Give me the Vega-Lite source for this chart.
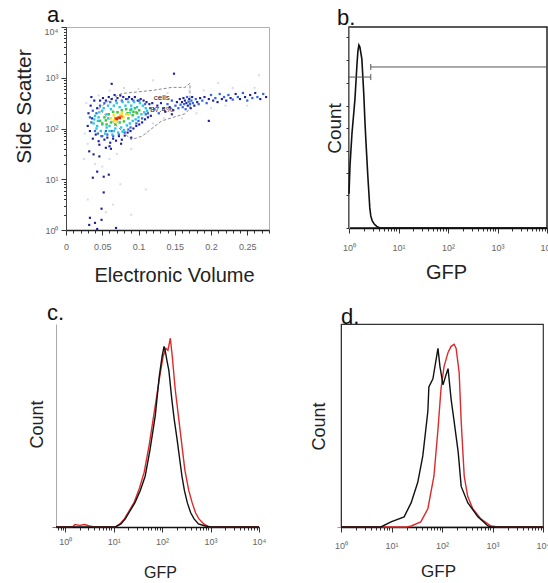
{
"$schema": "https://vega.github.io/schema/vega-lite/v6.json",
"background": "white",
"padding": {"left": 12, "top": 3, "right": 0, "bottom": 0},
"config": {
 "font": "Liberation Sans",
 "axis": {"labelFont": "Liberation Sans", "titleFont": "Liberation Sans", "labelFontSize": 9, "labelColor": "#666", "tickColor": "#333", "domainColor": "#333", "grid": false, "titleFontWeight": "normal", "titleColor": "#222", "labelOverlap": false, "labelFlush": false},
 "title": {"font": "Liberation Sans", "fontSize": 22, "fontWeight": "normal", "anchor": "start", "frame": "group", "baseline": "alphabetic", "color": "#111"}
},
"resolve": {"scale": {"color": "independent", "size": "independent"}},
"datasets": {
 "scatter": [
  {"ev":0.030,"lss":1.70,"d":0},{"ev":0.025,"lss":1.40,"d":0},{"ev":0.040,"lss":1.30,"d":0},{"ev":0.060,"lss":1.40,"d":0},{"ev":0.070,"lss":1.50,"d":0},{"ev":0.090,"lss":1.60,"d":0},{"ev":0.110,"lss":1.90,"d":0},{"ev":0.120,"lss":2.10,"d":0},{"ev":0.130,"lss":2.60,"d":0},{"ev":0.140,"lss":2.70,"d":0},{"ev":0.100,"lss":2.78,"d":0},{"ev":0.080,"lss":2.80,"d":0},{"ev":0.060,"lss":2.75,"d":0},{"ev":0.045,"lss":2.65,"d":0},{"ev":0.028,"lss":2.50,"d":0},{"ev":0.026,"lss":1.90,"d":0},{"ev":0.050,"lss":1.25,"d":0},{"ev":0.065,"lss":0.50,"d":0},{"ev":0.090,"lss":0.30,"d":0},{"ev":0.110,"lss":0.80,"d":0},{"ev":0.160,"lss":2.20,"d":0},{"ev":0.180,"lss":2.30,"d":0},{"ev":0.200,"lss":2.40,"d":0},{"ev":0.220,"lss":2.45,"d":0},{"ev":0.250,"lss":2.45,"d":0},{"ev":0.260,"lss":2.80,"d":0},{"ev":0.230,"lss":2.80,"d":0},{"ev":0.170,"lss":2.75,"d":0},{"ev":0.190,"lss":2.75,"d":0},{"ev":0.135,"lss":2.20,"d":0},{"ev":0.030,"lss":0.60,"d":0},{"ev":0.055,"lss":0.35,"d":0},{"ev":0.075,"lss":0.90,"d":0},{"ev":0.266,"lss":3.05,"d":0},{"ev":0.210,"lss":2.90,"d":0},{"ev":0.120,"lss":2.95,"d":0},
  {"ev":0.030,"lss":2.05,"d":1},{"ev":0.031,"lss":2.30,"d":1},{"ev":0.033,"lss":1.95,"d":1},{"ev":0.034,"lss":2.45,"d":1},{"ev":0.036,"lss":2.20,"d":1},{"ev":0.037,"lss":1.80,"d":1},{"ev":0.039,"lss":2.55,"d":1},{"ev":0.041,"lss":1.88,"d":1},{"ev":0.043,"lss":2.40,"d":1},{"ev":0.045,"lss":1.75,"d":1},{"ev":0.047,"lss":2.55,"d":1},{"ev":0.049,"lss":1.85,"d":1},{"ev":0.051,"lss":2.60,"d":1},{"ev":0.053,"lss":1.78,"d":1},{"ev":0.055,"lss":2.55,"d":1},{"ev":0.057,"lss":1.82,"d":1},{"ev":0.059,"lss":2.62,"d":1},{"ev":0.061,"lss":1.72,"d":1},{"ev":0.063,"lss":2.58,"d":1},{"ev":0.065,"lss":1.80,"d":1},{"ev":0.067,"lss":2.66,"d":1},{"ev":0.069,"lss":1.76,"d":1},{"ev":0.071,"lss":2.60,"d":1},{"ev":0.073,"lss":1.85,"d":1},{"ev":0.075,"lss":2.65,"d":1},{"ev":0.077,"lss":1.78,"d":1},{"ev":0.079,"lss":2.62,"d":1},{"ev":0.081,"lss":1.86,"d":1},{"ev":0.083,"lss":2.58,"d":1},{"ev":0.085,"lss":1.92,"d":1},{"ev":0.087,"lss":2.62,"d":1},{"ev":0.089,"lss":1.95,"d":1},{"ev":0.091,"lss":2.58,"d":1},{"ev":0.093,"lss":2.00,"d":1},{"ev":0.095,"lss":2.62,"d":1},{"ev":0.097,"lss":2.05,"d":1},{"ev":0.099,"lss":2.55,"d":1},{"ev":0.101,"lss":2.08,"d":1},{"ev":0.103,"lss":2.58,"d":1},{"ev":0.105,"lss":2.12,"d":1},{"ev":0.107,"lss":2.55,"d":1},{"ev":0.109,"lss":2.18,"d":1},{"ev":0.111,"lss":2.52,"d":1},{"ev":0.113,"lss":2.22,"d":1},{"ev":0.115,"lss":2.48,"d":1},{"ev":0.117,"lss":2.25,"d":1},{"ev":0.119,"lss":2.50,"d":1},{"ev":0.035,"lss":2.62,"d":1},{"ev":0.046,"lss":1.68,"d":1},{"ev":0.060,"lss":1.65,"d":1},{"ev":0.076,"lss":1.70,"d":1},{"ev":0.090,"lss":1.82,"d":1},
  {"ev":0.032,"lss":1.55,"d":1},{"ev":0.038,"lss":1.49,"d":1},{"ev":0.043,"lss":1.15,"d":1},{"ev":0.037,"lss":1.03,"d":1},{"ev":0.052,"lss":1.05,"d":1},{"ev":0.059,"lss":1.09,"d":1},{"ev":0.052,"lss":0.74,"d":1},{"ev":0.049,"lss":0.42,"d":1},{"ev":0.033,"lss":0.24,"d":1},{"ev":0.040,"lss":0.14,"d":1},{"ev":0.049,"lss":0.20,"d":1},{"ev":0.032,"lss":0.10,"d":1},{"ev":0.043,"lss":0.02,"d":1},{"ev":0.069,"lss":0.04,"d":1},{"ev":0.046,"lss":1.45,"d":1},{"ev":0.055,"lss":1.62,"d":1},{"ev":0.062,"lss":1.60,"d":1},
  {"ev":0.149,"lss":3.08,"d":1},{"ev":0.197,"lss":2.15,"d":1},{"ev":0.146,"lss":2.28,"d":1},{"ev":0.063,"lss":2.88,"d":1},
  {"ev":0.126,"lss":2.45,"d":1},{"ev":0.131,"lss":2.50,"d":1},{"ev":0.137,"lss":2.33,"d":1},{"ev":0.143,"lss":2.42,"d":1},{"ev":0.148,"lss":2.36,"d":1},{"ev":0.153,"lss":2.52,"d":1},{"ev":0.157,"lss":2.58,"d":1},{"ev":0.160,"lss":2.52,"d":1},{"ev":0.162,"lss":2.60,"d":1},{"ev":0.164,"lss":2.55,"d":1},{"ev":0.166,"lss":2.50,"d":1},{"ev":0.168,"lss":2.45,"d":1},{"ev":0.170,"lss":2.58,"d":1},{"ev":0.172,"lss":2.40,"d":1},{"ev":0.174,"lss":2.62,"d":1},{"ev":0.177,"lss":2.45,"d":1},{"ev":0.181,"lss":2.52,"d":1},{"ev":0.185,"lss":2.60,"d":1},{"ev":0.191,"lss":2.62,"d":1},{"ev":0.197,"lss":2.58,"d":1},{"ev":0.203,"lss":2.55,"d":1},{"ev":0.209,"lss":2.52,"d":1},{"ev":0.215,"lss":2.58,"d":1},{"ev":0.221,"lss":2.55,"d":1},{"ev":0.227,"lss":2.60,"d":1},{"ev":0.234,"lss":2.68,"d":1},{"ev":0.240,"lss":2.58,"d":1},{"ev":0.247,"lss":2.62,"d":1},{"ev":0.254,"lss":2.66,"d":1},{"ev":0.261,"lss":2.70,"d":1},{"ev":0.268,"lss":2.58,"d":1},{"ev":0.276,"lss":2.62,"d":1},
  {"ev":0.035,"lss":2.12,"d":2},{"ev":0.037,"lss":2.35,"d":2},{"ev":0.040,"lss":1.95,"d":2},{"ev":0.042,"lss":2.30,"d":2},{"ev":0.044,"lss":1.90,"d":2},{"ev":0.047,"lss":2.45,"d":2},{"ev":0.050,"lss":1.85,"d":2},{"ev":0.053,"lss":2.50,"d":2},{"ev":0.057,"lss":1.88,"d":2},{"ev":0.061,"lss":2.52,"d":2},{"ev":0.065,"lss":1.85,"d":2},{"ev":0.069,"lss":2.55,"d":2},{"ev":0.073,"lss":1.88,"d":2},{"ev":0.077,"lss":2.55,"d":2},{"ev":0.081,"lss":1.92,"d":2},{"ev":0.085,"lss":2.58,"d":2},{"ev":0.089,"lss":2.02,"d":2},{"ev":0.093,"lss":2.55,"d":2},{"ev":0.097,"lss":2.10,"d":2},{"ev":0.101,"lss":2.55,"d":2},{"ev":0.105,"lss":2.20,"d":2},{"ev":0.109,"lss":2.48,"d":2},{"ev":0.113,"lss":2.30,"d":2},{"ev":0.116,"lss":2.40,"d":2},{"ev":0.055,"lss":1.95,"d":2},{"ev":0.086,"lss":1.98,"d":2},{"ev":0.033,"lss":2.22,"d":2},{"ev":0.063,"lss":1.95,"d":2},{"ev":0.100,"lss":2.15,"d":2},{"ev":0.110,"lss":2.28,"d":2},
  {"ev":0.122,"lss":2.38,"d":2},{"ev":0.128,"lss":2.30,"d":2},{"ev":0.134,"lss":2.40,"d":2},{"ev":0.140,"lss":2.48,"d":2},{"ev":0.146,"lss":2.55,"d":2},{"ev":0.151,"lss":2.45,"d":2},{"ev":0.155,"lss":2.40,"d":2},{"ev":0.158,"lss":2.47,"d":2},{"ev":0.161,"lss":2.42,"d":2},{"ev":0.163,"lss":2.48,"d":2},{"ev":0.165,"lss":2.38,"d":2},{"ev":0.167,"lss":2.62,"d":2},{"ev":0.169,"lss":2.53,"d":2},{"ev":0.171,"lss":2.48,"d":2},{"ev":0.173,"lss":2.55,"d":2},{"ev":0.175,"lss":2.50,"d":2},{"ev":0.179,"lss":2.58,"d":2},{"ev":0.183,"lss":2.48,"d":2},{"ev":0.188,"lss":2.55,"d":2},{"ev":0.194,"lss":2.50,"d":2},{"ev":0.200,"lss":2.66,"d":2},{"ev":0.206,"lss":2.60,"d":2},{"ev":0.212,"lss":2.68,"d":2},{"ev":0.218,"lss":2.62,"d":2},{"ev":0.224,"lss":2.66,"d":2},{"ev":0.230,"lss":2.57,"d":2},{"ev":0.237,"lss":2.62,"d":2},{"ev":0.244,"lss":2.70,"d":2},{"ev":0.250,"lss":2.55,"d":2},{"ev":0.257,"lss":2.60,"d":2},{"ev":0.264,"lss":2.62,"d":2},{"ev":0.272,"lss":2.68,"d":2},
  {"ev":0.038,"lss":2.10,"d":3},{"ev":0.040,"lss":2.25,"d":3},{"ev":0.042,"lss":2.00,"d":3},{"ev":0.044,"lss":2.15,"d":3},{"ev":0.046,"lss":2.32,"d":3},{"ev":0.048,"lss":1.95,"d":3},{"ev":0.050,"lss":2.08,"d":3},{"ev":0.052,"lss":2.40,"d":3},{"ev":0.054,"lss":1.90,"d":3},{"ev":0.056,"lss":2.02,"d":3},{"ev":0.058,"lss":2.45,"d":3},{"ev":0.060,"lss":1.95,"d":3},{"ev":0.062,"lss":2.38,"d":3},{"ev":0.064,"lss":1.88,"d":3},{"ev":0.066,"lss":2.45,"d":3},{"ev":0.068,"lss":2.00,"d":3},{"ev":0.070,"lss":2.50,"d":3},{"ev":0.072,"lss":1.92,"d":3},{"ev":0.074,"lss":2.42,"d":3},{"ev":0.076,"lss":2.02,"d":3},{"ev":0.078,"lss":2.52,"d":3},{"ev":0.080,"lss":1.97,"d":3},{"ev":0.082,"lss":2.45,"d":3},{"ev":0.084,"lss":2.06,"d":3},{"ev":0.086,"lss":2.52,"d":3},{"ev":0.088,"lss":2.10,"d":3},{"ev":0.090,"lss":2.45,"d":3},{"ev":0.092,"lss":2.15,"d":3},{"ev":0.094,"lss":2.52,"d":3},{"ev":0.096,"lss":2.18,"d":3},{"ev":0.098,"lss":2.42,"d":3},{"ev":0.100,"lss":2.22,"d":3},{"ev":0.102,"lss":2.50,"d":3},{"ev":0.104,"lss":2.28,"d":3},{"ev":0.106,"lss":2.45,"d":3},{"ev":0.108,"lss":2.32,"d":3},{"ev":0.110,"lss":2.40,"d":3},{"ev":0.045,"lss":2.22,"d":3},{"ev":0.043,"lss":2.05,"d":3},{"ev":0.058,"lss":2.20,"d":3},{"ev":0.088,"lss":2.30,"d":3},{"ev":0.097,"lss":2.32,"d":3},{"ev":0.066,"lss":1.95,"d":3},{"ev":0.078,"lss":1.94,"d":3},{"ev":0.112,"lss":2.35,"d":3},{"ev":0.039,"lss":2.18,"d":3},{"ev":0.050,"lss":2.35,"d":3},{"ev":0.056,"lss":2.28,"d":3},{"ev":0.090,"lss":2.38,"d":3},{"ev":0.060,"lss":2.05,"d":3},
  {"ev":0.050,"lss":2.10,"d":4},{"ev":0.053,"lss":2.22,"d":4},{"ev":0.056,"lss":2.08,"d":4},{"ev":0.059,"lss":2.28,"d":4},{"ev":0.062,"lss":2.12,"d":4},{"ev":0.065,"lss":2.33,"d":4},{"ev":0.068,"lss":2.08,"d":4},{"ev":0.071,"lss":2.32,"d":4},{"ev":0.074,"lss":2.12,"d":4},{"ev":0.077,"lss":2.36,"d":4},{"ev":0.080,"lss":2.14,"d":4},{"ev":0.083,"lss":2.38,"d":4},{"ev":0.086,"lss":2.20,"d":4},{"ev":0.089,"lss":2.36,"d":4},{"ev":0.092,"lss":2.26,"d":4},{"ev":0.095,"lss":2.40,"d":4},{"ev":0.098,"lss":2.30,"d":4},{"ev":0.101,"lss":2.36,"d":4},{"ev":0.055,"lss":2.16,"d":4},{"ev":0.085,"lss":2.30,"d":4},{"ev":0.093,"lss":2.33,"d":4},{"ev":0.047,"lss":2.15,"d":4},
  {"ev":0.062,"lss":2.20,"d":5},{"ev":0.066,"lss":2.15,"d":5},{"ev":0.066,"lss":2.26,"d":5},{"ev":0.071,"lss":2.20,"d":5},{"ev":0.075,"lss":2.26,"d":5},{"ev":0.079,"lss":2.22,"d":5},{"ev":0.083,"lss":2.28,"d":5},{"ev":0.070,"lss":2.14,"d":5},{"ev":0.077,"lss":2.30,"d":5},{"ev":0.087,"lss":2.28,"d":5},
  {"ev":0.068,"lss":2.20,"d":6},{"ev":0.072,"lss":2.22,"d":6},{"ev":0.077,"lss":2.24,"d":6},
  {"ev":0.070,"lss":2.19,"d":7},{"ev":0.074,"lss":2.21,"d":7}
 ],
 "gate": [
  {"i":1,"ev":0.045,"lss":2.39},{"i":2,"ev":0.063,"lss":2.59},{"i":3,"ev":0.077,"lss":2.69},{"i":4,"ev":0.119,"lss":2.75},{"i":5,"ev":0.146,"lss":2.81},{"i":6,"ev":0.164,"lss":2.81},{"i":7,"ev":0.171,"lss":2.89},{"i":8,"ev":0.171,"lss":2.39},{"i":9,"ev":0.164,"lss":2.29},{"i":10,"ev":0.132,"lss":2.15},{"i":11,"ev":0.105,"lss":1.85},{"i":12,"ev":0.090,"lss":1.78},{"i":13,"ev":0.045,"lss":2.39}
 ],
 "gatelabel": [{"ev":0.132,"lss":2.60,"t":"cells"},{"ev":0.132,"lss":2.36,"t":"87.4%"}],
 "hb": [
  {"L":0,"C":0.17},{"L":0.02,"C":0.31},{"L":0.06,"C":0.47},{"L":0.12,"C":0.64},{"L":0.16,"C":0.81},{"L":0.18,"C":0.88},{"L":0.20,"C":0.91},{"L":0.22,"C":0.90},{"L":0.26,"C":0.84},{"L":0.28,"C":0.75},{"L":0.30,"C":0.66},{"L":0.32,"C":0.54},{"L":0.34,"C":0.44},{"L":0.36,"C":0.35},{"L":0.38,"C":0.26},{"L":0.40,"C":0.18},{"L":0.42,"C":0.10},{"L":0.44,"C":0.06},{"L":0.47,"C":0.035},{"L":0.51,"C":0.02},{"L":0.56,"C":0.008},{"L":0.63,"C":0},{"L":4,"C":0}
 ],
 "bgate": [{"L":0,"L2":0.44,"C":0.751},{"L":0.44,"L2":4,"C":0.801}],
 "bcap": [{"L":0.44,"C":0.736,"C2":0.766},{"L":0.44,"C":0.786,"C2":0.816}],
 "hc": [
  {"s":"gfp","L":-0.19,"C":0},{"s":"gfp","L":0.15,"C":0},{"s":"gfp","L":0.2,"C":0.012},{"s":"gfp","L":0.3,"C":0.008},{"s":"gfp","L":0.4,"C":0.012},{"s":"gfp","L":0.5,"C":0.005},{"s":"gfp","L":0.6,"C":0},{"s":"gfp","L":1.03,"C":0},{"s":"gfp","L":1.13,"C":0.015},{"s":"gfp","L":1.22,"C":0.04},{"s":"gfp","L":1.32,"C":0.08},{"s":"gfp","L":1.42,"C":0.12},{"s":"gfp","L":1.53,"C":0.19},{"s":"gfp","L":1.63,"C":0.27},{"s":"gfp","L":1.73,"C":0.40},{"s":"gfp","L":1.84,"C":0.57},{"s":"gfp","L":1.95,"C":0.74},{"s":"gfp","L":2.02,"C":0.84},{"s":"gfp","L":2.08,"C":0.88},{"s":"gfp","L":2.12,"C":0.87},{"s":"gfp","L":2.17,"C":0.93},{"s":"gfp","L":2.21,"C":0.84},{"s":"gfp","L":2.27,"C":0.68},{"s":"gfp","L":2.32,"C":0.58},{"s":"gfp","L":2.37,"C":0.48},{"s":"gfp","L":2.42,"C":0.38},{"s":"gfp","L":2.47,"C":0.28},{"s":"gfp","L":2.55,"C":0.18},{"s":"gfp","L":2.62,"C":0.12},{"s":"gfp","L":2.69,"C":0.07},{"s":"gfp","L":2.76,"C":0.04},{"s":"gfp","L":2.86,"C":0.015},{"s":"gfp","L":2.97,"C":0},{"s":"gfp","L":4,"C":0},
  {"s":"ctrl","L":-0.19,"C":0},{"s":"ctrl","L":1.03,"C":0},{"s":"ctrl","L":1.15,"C":0.015},{"s":"ctrl","L":1.24,"C":0.04},{"s":"ctrl","L":1.34,"C":0.08},{"s":"ctrl","L":1.44,"C":0.12},{"s":"ctrl","L":1.55,"C":0.18},{"s":"ctrl","L":1.65,"C":0.25},{"s":"ctrl","L":1.75,"C":0.38},{"s":"ctrl","L":1.86,"C":0.55},{"s":"ctrl","L":1.94,"C":0.74},{"s":"ctrl","L":2.0,"C":0.84},{"s":"ctrl","L":2.04,"C":0.89},{"s":"ctrl","L":2.07,"C":0.86},{"s":"ctrl","L":2.1,"C":0.82},{"s":"ctrl","L":2.14,"C":0.77},{"s":"ctrl","L":2.2,"C":0.63},{"s":"ctrl","L":2.25,"C":0.53},{"s":"ctrl","L":2.31,"C":0.43},{"s":"ctrl","L":2.36,"C":0.34},{"s":"ctrl","L":2.41,"C":0.25},{"s":"ctrl","L":2.46,"C":0.18},{"s":"ctrl","L":2.52,"C":0.12},{"s":"ctrl","L":2.59,"C":0.07},{"s":"ctrl","L":2.66,"C":0.04},{"s":"ctrl","L":2.75,"C":0.015},{"s":"ctrl","L":2.89,"C":0.005},{"s":"ctrl","L":3.0,"C":0},{"s":"ctrl","L":4,"C":0}
 ],
 "hd": [
  {"s":"gfp","L":0,"C":0},{"s":"gfp","L":1.30,"C":0},{"s":"gfp","L":1.39,"C":0.005},{"s":"gfp","L":1.58,"C":0.025},{"s":"gfp","L":1.72,"C":0.09},{"s":"gfp","L":1.84,"C":0.25},{"s":"gfp","L":1.92,"C":0.48},{"s":"gfp","L":1.98,"C":0.68},{"s":"gfp","L":2.04,"C":0.79},{"s":"gfp","L":2.12,"C":0.86},{"s":"gfp","L":2.18,"C":0.89},{"s":"gfp","L":2.24,"C":0.90},{"s":"gfp","L":2.28,"C":0.88},{"s":"gfp","L":2.34,"C":0.76},{"s":"gfp","L":2.38,"C":0.52},{"s":"gfp","L":2.44,"C":0.25},{"s":"gfp","L":2.51,"C":0.15},{"s":"gfp","L":2.61,"C":0.09},{"s":"gfp","L":2.77,"C":0.04},{"s":"gfp","L":2.97,"C":0.005},{"s":"gfp","L":3.11,"C":0},{"s":"gfp","L":4,"C":0},
  {"s":"ctrl","L":0,"C":0},{"s":"ctrl","L":0.79,"C":0},{"s":"ctrl","L":0.99,"C":0.025},{"s":"ctrl","L":1.25,"C":0.05},{"s":"ctrl","L":1.39,"C":0.12},{"s":"ctrl","L":1.52,"C":0.22},{"s":"ctrl","L":1.62,"C":0.35},{"s":"ctrl","L":1.72,"C":0.57},{"s":"ctrl","L":1.74,"C":0.69},{"s":"ctrl","L":1.82,"C":0.73},{"s":"ctrl","L":1.92,"C":0.88},{"s":"ctrl","L":1.96,"C":0.79},{"s":"ctrl","L":2.02,"C":0.70},{"s":"ctrl","L":2.08,"C":0.75},{"s":"ctrl","L":2.12,"C":0.78},{"s":"ctrl","L":2.18,"C":0.63},{"s":"ctrl","L":2.24,"C":0.52},{"s":"ctrl","L":2.32,"C":0.37},{"s":"ctrl","L":2.38,"C":0.20},{"s":"ctrl","L":2.51,"C":0.12},{"s":"ctrl","L":2.71,"C":0.05},{"s":"ctrl","L":2.91,"C":0.005},{"s":"ctrl","L":2.97,"C":0},{"s":"ctrl","L":4,"C":0}
 ]
},
"spacing": 16,
"vconcat": [
 {"spacing": 54, "resolve": {"scale": {"color": "independent", "size": "independent"}}, "hconcat": [
  {
   "width": 203, "height": 203,
   "view": {"stroke": "#b0b0b0"},
   "title": {"text": "a.", "dx": -19, "offset": -2},
   "encoding": {
    "x": {"field": "ev", "type": "quantitative", "scale": {"domain": [0, 0.28], "nice": false, "zero": false},
     "axis": {"title": "Electronic Volume", "titleFontSize": 20, "titleX": 108, "titleY": 51, "titleBaseline": "alphabetic",
      "values": [0,0.01,0.02,0.03,0.04,0.05,0.06,0.07,0.08,0.09,0.1,0.11,0.12,0.13,0.14,0.15,0.16,0.17,0.18,0.19,0.2,0.21,0.22,0.23,0.24,0.25,0.26,0.27,0.28],
      "labelExpr": "abs(datum.value*20 - round(datum.value*20)) < 0.001 ? format(datum.value, '~g') : ''",
      "tickSize": {"condition": {"test": "abs(datum.value*20 - round(datum.value*20)) < 0.001", "value": 5}, "value": 3},
      "labelPadding": 7, "domainColor": "#222", "domainWidth": 1.5}},
    "y": {"field": "lss", "type": "quantitative", "scale": {"domain": [0, 4], "nice": false, "zero": false},
     "axis": {"title": "Side Scatter", "titleFontSize": 21, "titleX": -36, "titleY": 79, "titleBaseline": "alphabetic",
      "values": [0,0.301,0.477,0.602,0.699,0.778,0.845,0.903,0.954,1,1.301,1.477,1.602,1.699,1.778,1.845,1.903,1.954,2,2.301,2.477,2.602,2.699,2.778,2.845,2.903,2.954,3,3.301,3.477,3.602,3.699,3.778,3.845,3.903,3.954,4],
      "labelExpr": "datum.value % 1 == 0 ? '10' + ['\u2070','\u00b9','\u00b2','\u00b3','\u2074'][datum.value] : ''",
      "labelBaseline": {"condition": {"test": "datum.value == 4", "value": "top"}, "value": "middle"},
      "tickSize": {"condition": {"test": "datum.value % 1 == 0", "value": 5}, "value": 2.5},
      "labelPadding": 3, "domainColor": "#444"}}
   },
   "layer": [
    {"data": {"name": "gate"}, "mark": {"type": "line", "color": "#8a8a8a", "strokeDash": [3, 2], "strokeWidth": 1}, "encoding": {"order": {"field": "i", "type": "quantitative"}}},
    {"data": {"name": "scatter"}, "mark": {"type": "square", "filled": true, "opacity": 1},
     "encoding": {
      "color": {"field": "d", "type": "ordinal", "scale": {"domain": [0,1,2,3,4,5,6,7], "range": ["#d3dcf5","#1b1f9e","#3567dd","#2fc3e8","#3fc646","#f1e12b","#f39a24","#e3261c"]}, "legend": null},
      "size": {"field": "d", "type": "ordinal", "scale": {"domain": [0,1,2,3,4,5,6,7], "range": [4,8,12,34,40,40,32,26]}, "legend": null}
     }},
    {"data": {"name": "gatelabel"}, "mark": {"type": "text", "fontSize": 8, "color": "#222"}, "encoding": {"text": {"field": "t"}}}
   ]
  },
  {
   "width": 198, "height": 201,
   "view": {"stroke": "#222", "strokeWidth": 1.5},
   "title": {"text": "b.", "dx": -12, "offset": -3},
   "encoding": {
    "x": {"field": "L", "type": "quantitative", "scale": {"domain": [0, 4], "nice": false, "zero": false},
     "axis": {"title": "GFP", "titleFontSize": 20, "titleX": 97, "titleY": 50, "titleBaseline": "alphabetic",
      "values": [0,0.301,0.477,0.602,0.699,0.778,0.845,0.903,0.954,1,1.301,1.477,1.602,1.699,1.778,1.845,1.903,1.954,2,2.301,2.477,2.602,2.699,2.778,2.845,2.903,2.954,3,3.301,3.477,3.602,3.699,3.778,3.845,3.903,3.954,4],
      "labelExpr": "datum.value % 1 == 0 ? '10' + ['\u2070','\u00b9','\u00b2','\u00b3','\u2074'][datum.value] : ''",
      "tickSize": {"condition": {"test": "datum.value % 1 == 0", "value": 5}, "value": 3},
      "labelPadding": 10, "domainColor": "#111", "domainWidth": 1.5}},
    "y": {"field": "C", "type": "quantitative", "scale": {"domain": [0, 1], "nice": false, "zero": false},
     "axis": {"title": "Count", "titleFontSize": 19, "titleX": -9, "titleY": 101, "titleBaseline": "alphabetic",
      "values": [0,0.164,0.274,0.383,0.497,0.607,0.72,0.836,0.95], "labels": false, "tickSize": 3, "domainColor": "#999"}}
   },
   "layer": [
    {"data": {"name": "hb"}, "mark": {"type": "line", "color": "#111", "strokeWidth": 1.6}, "encoding": {}},
    {"data": {"name": "bgate"}, "mark": {"type": "rule", "color": "#555", "strokeWidth": 1}, "encoding": {"x2": {"field": "L2"}}},
    {"data": {"name": "bcap"}, "mark": {"type": "rule", "color": "#555", "strokeWidth": 1}, "encoding": {"y2": {"field": "C2"}}}
   ]
  }
 ]},
 {"spacing": 40, "resolve": {"scale": {"color": "independent", "size": "independent"}}, "hconcat": [
  {
   "width": 193, "height": 203,
   "view": {"stroke": null},
   "title": {"text": "c.", "dx": -19, "offset": -1},
   "encoding": {
    "x": {"field": "L", "type": "quantitative", "scale": {"domain": [-0.19, 4], "range": [-10, 193], "nice": false, "zero": false},
     "axis": {"title": "GFP", "titleFontSize": 16, "titleX": 94, "titleY": 50, "titleBaseline": "alphabetic",
      "values": [-0.155,-0.097,-0.046,0,0.301,0.477,0.602,0.699,0.778,0.845,0.903,0.954,1,1.301,1.477,1.602,1.699,1.778,1.845,1.903,1.954,2,2.301,2.477,2.602,2.699,2.778,2.845,2.903,2.954,3,3.301,3.477,3.602,3.699,3.778,3.845,3.903,3.954,4],
      "labelExpr": "datum.value % 1 == 0 ? '10' + ['\u2070','\u00b9','\u00b2','\u00b3','\u2074'][datum.value] : ''",
      "tickSize": {"condition": {"test": "datum.value % 1 == 0", "value": 5}, "value": 3},
      "labelPadding": 5, "domainColor": "#111", "domainWidth": 1.5}},
    "y": {"field": "C", "type": "quantitative", "scale": {"domain": [0, 1], "nice": false, "zero": false},
     "axis": {"title": "Count", "titleFontSize": 18, "titleX": -14, "titleY": 100, "titleBaseline": "alphabetic",
      "values": [0], "labels": false, "tickSize": 4, "offset": 10, "domainColor": "#aaa", "tickColor": "#777"}}
   },
   "layer": [
    {"data": {"name": "hc"}, "mark": {"type": "line", "strokeWidth": 1.4},
     "encoding": {"color": {"field": "s", "type": "nominal", "scale": {"domain": ["gfp", "ctrl"], "range": ["#dc2a2a", "#111111"]}, "legend": null}}},
    {"data": {"values": [{}]}, "mark": {"type": "rule", "color": "#aaa", "strokeWidth": 1},
     "encoding": {"x": {"datum": -0.19, "type": "quantitative"}, "x2": {"datum": 4}, "y": {"datum": 1, "type": "quantitative"}}},
    {"data": {"values": [{}]}, "mark": {"type": "rule", "color": "#aaa", "strokeWidth": 1},
     "encoding": {"x": {"datum": 4, "type": "quantitative"}, "y": {"datum": 0, "type": "quantitative"}, "y2": {"datum": 1}}}
   ]
  },
  {
   "width": 202, "height": 203,
   "view": {"stroke": "#333", "strokeWidth": 1.2},
   "title": {"text": "d.", "dx": 0, "offset": -5},
   "data": {"name": "hd"},
   "mark": {"type": "line", "strokeWidth": 1.4},
   "encoding": {
    "x": {"field": "L", "type": "quantitative", "scale": {"domain": [0, 4], "nice": false, "zero": false},
     "axis": {"title": "GFP", "titleFontSize": 17, "titleX": 97, "titleY": 49, "titleBaseline": "alphabetic",
      "values": [0,0.301,0.477,0.602,0.699,0.778,0.845,0.903,0.954,1,1.301,1.477,1.602,1.699,1.778,1.845,1.903,1.954,2,2.301,2.477,2.602,2.699,2.778,2.845,2.903,2.954,3,3.301,3.477,3.602,3.699,3.778,3.845,3.903,3.954,4],
      "labelExpr": "datum.value % 1 == 0 ? '10' + ['\u2070','\u00b9','\u00b2','\u00b3','\u2074'][datum.value] : ''",
      "tickSize": {"condition": {"test": "datum.value % 1 == 0", "value": 5}, "value": 3},
      "labelPadding": 9, "domainColor": "#111", "domainWidth": 1.5}},
    "y": {"field": "C", "type": "quantitative", "scale": {"domain": [0, 1], "nice": false, "zero": false},
     "axis": {"title": "Count", "titleFontSize": 18, "titleX": -17, "titleY": 102, "titleBaseline": "alphabetic",
      "values": [0], "labels": false, "tickSize": 4, "tickColor": "#999"}},
    "color": {"field": "s", "type": "nominal", "scale": {"domain": ["gfp", "ctrl"], "range": ["#dc2a2a", "#111111"]}, "legend": null}
   }
  }
 ]}
]
}
